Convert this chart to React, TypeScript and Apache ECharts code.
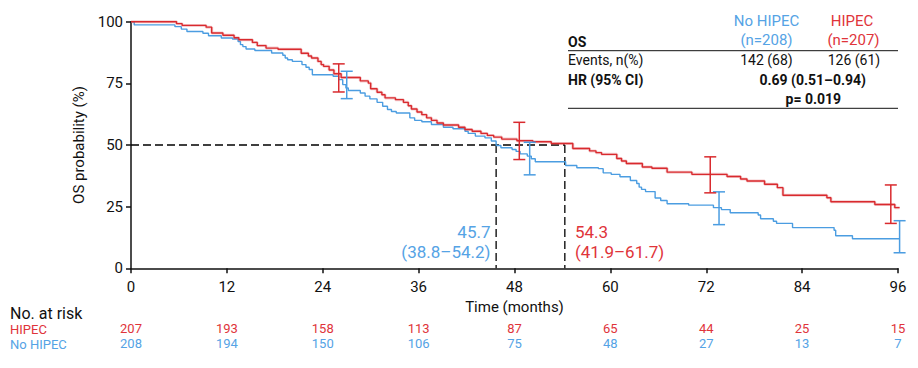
import React, { useEffect, useRef } from "react";
import * as echarts from "echarts";

const FONT = "Roboto, 'Noto Sans', sans-serif";
const RED = "#d92a2e";
const BLUE = "#4b9de1";
const RED_TXT = "#e0343a";
const BLUE_TXT = "#55a3e5";

const xTicks = [0, 12, 24, 36, 48, 60, 72, 84, 96];
const riskHIPEC = [207, 193, 158, 113, 87, 65, 44, 25, 15];
const riskNoHIPEC = [208, 194, 150, 106, 75, 48, 27, 13, 7];

// [time (months), survival % from this time on]
const hipecCurve: [number, number][] = [
  [0, 100], [5.7, 99.2], [6.4, 98.5], [9.4, 97.8], [10.1, 95.4], [11.5, 94.5], [12.9, 93.5],
  [13.5, 92.7], [15.2, 91.6], [15.8, 90.3], [16.9, 89.3], [18.4, 88.8], [21.3, 87.2],
  [22.2, 86.1], [22.6, 85.3], [23.4, 83.9], [23.8, 82.6], [24.1, 81.9], [24.8, 80.4],
  [25.4, 78.9], [26.3, 77.4], [28.7, 76], [29.7, 75.1], [30.0, 72.8], [30.8, 71.4],
  [31.4, 70.4], [31.8, 69.1], [33.1, 68.4], [34.1, 67.3], [34.7, 65.9], [35.1, 64.6],
  [35.8, 63.4], [36.4, 62.3], [37.0, 61], [37.6, 60], [38.3, 58.9], [39.1, 58.1],
  [41.0, 57.2], [41.8, 56.3], [42.7, 55.6], [43.8, 54.7], [44.6, 53.9], [45.4, 53.2],
  [46.4, 52.4], [48.3, 51.7], [50.3, 51.3], [52.6, 50.6], [55.3, 48.6], [57.4, 47.6],
  [58.2, 46.9], [58.9, 46.2], [60.8, 44.5], [61.4, 43.5], [62.0, 42.5], [64.0, 41.1],
  [65.2, 40.6], [67.1, 39], [70.2, 38.1], [74.6, 37.2], [76.3, 36.2], [77.1, 35.4],
  [79.3, 34.1], [80.9, 32.7], [81.6, 29.6], [87.1, 28.6], [87.6, 27], [93.1, 25.9],
  [95.6, 24.6], [96.2, 24.6],
];

const noHipecCurve: [number, number][] = [
  [0, 100], [0.4, 98.7], [5.5, 98], [6.3, 97], [7.0, 96], [9.0, 95.3], [9.7, 94.3],
  [11.3, 93.4], [12.7, 93], [13.4, 92], [13.7, 90.7], [14.0, 89.9], [14.4, 88.9],
  [15.5, 88.3], [17.6, 87.3], [19.0, 86.4], [19.3, 85.3], [19.6, 84.6], [20.2, 83.9],
  [21.4, 82.6], [21.9, 81.5], [22.3, 80.6], [22.7, 78.5], [25.3, 77.9], [26.0, 76.5],
  [26.5, 74.5], [26.9, 73.1], [27.2, 72.1], [28.7, 71.1], [29.3, 69.8], [29.9, 68.7],
  [30.8, 67.3], [31.5, 65.7], [32.1, 64.4], [32.6, 63.6], [33.2, 63], [34.9, 61],
  [35.5, 60], [36.4, 59.4], [37.6, 58.3], [39.1, 57.2], [40.3, 56.6], [41.8, 55.6],
  [42.2, 54.7], [43.1, 53.6], [44.3, 52.9], [45.1, 51.6], [45.7, 49.8], [46.3, 48.9],
  [47.7, 48.2], [48.2, 47.4], [48.7, 46.4], [49.6, 45.5], [50.1, 44.4], [50.6, 43.2],
  [54.4, 41.7], [55.8, 40.8], [58.5, 40.4], [59.1, 38.7], [60.1, 38.1], [61.2, 37.1],
  [62.5, 35.6], [63.3, 34.4], [63.6, 32.9], [63.9, 32], [64.4, 31.1], [65.6, 28.5],
  [66.3, 27.5], [67.1, 26.2], [69.8, 25.6], [72.9, 24.6], [73.9, 23.8], [75.0, 22.5],
  [78.5, 21.6], [78.8, 20.1], [80.4, 19.1], [80.8, 18.2], [82.8, 16.5], [88.0, 15.4],
  [88.2, 13.2], [90.3, 12], [96.2, 12],
];

// [time, lower %, upper %]
const hipecCI: [number, number, number][] = [
  [26.0, 71.5, 82.9], [48.6, 44.1, 59.2], [72.5, 30.6, 45.2], [95.1, 18.2, 33.8],
];
const noHipecCI: [number, number, number][] = [
  [27.0, 68.8, 79.9], [49.9, 37.9, 51.1], [73.6, 17.7, 31.0], [96.2, 6.3, 19.3],
];

const medianHIPEC = 54.3;
const medianNoHIPEC = 45.7;

function errorBarRender(color: string) {
  return (params: any, api: any) => {
    const x = api.value(0);
    const top = api.coord([x, api.value(2)]);
    const bot = api.coord([x, api.value(1)]);
    const w = 6;
    const style = { stroke: color, lineWidth: 1.5 };
    return {
      type: "group",
      children: [
        { type: "line", shape: { x1: top[0], y1: top[1], x2: bot[0], y2: bot[1] }, style },
        { type: "line", shape: { x1: top[0] - w, y1: top[1], x2: top[0] + w, y2: top[1] }, style },
        { type: "line", shape: { x1: bot[0] - w, y1: bot[1], x2: bot[0] + w, y2: bot[1] }, style },
      ],
    };
  };
}

function riskAxis(values: number[], color: string, offset: number) {
  return {
    type: "value",
    gridIndex: 0,
    position: "bottom",
    offset,
    min: 0,
    max: 96,
    interval: 12,
    axisLine: { show: false },
    axisTick: { show: false },
    splitLine: { show: false },
    axisLabel: {
      margin: 0,
      fontFamily: FONT,
      fontSize: 13,
      color,
      formatter: (v: number) => String(values[xTicks.indexOf(v)] ?? ""),
    },
  };
}

export default function App() {
  const ref = useRef<HTMLDivElement>(null);

  useEffect(() => {
    if (!ref.current) return;
    const chart = echarts.init(ref.current, undefined, { renderer: "svg" });
    const txt = (x: number, y: number, text: string, opts: any = {}) => ({
      type: "text",
      style: {
        x,
        y,
        text,
        fontFamily: FONT,
        fontSize: 14,
        fill: "#111",
        textAlign: "left",
        textVerticalAlign: "middle",
        ...opts,
      },
    });

    const dashed = { color: "#000", width: 1.3, type: [8, 4] as any };

    chart.setOption({
      animation: false,
      grid: { left: 131, right: 20, top: 21.7, bottom: 99.7, containLabel: false },
      xAxis: [
        {
          type: "value",
          min: 0,
          max: 96,
          interval: 12,
          name: "Time (months)",
          nameLocation: "middle",
          nameGap: 30,
          nameTextStyle: { fontFamily: FONT, fontSize: 15, color: "#111" },
          axisLine: { show: true, lineStyle: { color: "#111", width: 1.5 } },
          axisTick: { show: true, length: 5, lineStyle: { color: "#111", width: 1.5 } },
          splitLine: { show: false },
          axisLabel: { margin: 11, fontFamily: FONT, fontSize: 15, color: "#111" },
        },
        riskAxis(riskHIPEC, RED_TXT, 54),
        riskAxis(riskNoHIPEC, BLUE_TXT, 69),
      ],
      yAxis: {
        type: "value",
        min: 0,
        max: 100,
        interval: 25,
        name: "OS probability (%)",
        nameLocation: "middle",
        nameGap: 45,
        nameTextStyle: { fontFamily: FONT, fontSize: 15, color: "#111" },
        axisLine: { show: true, lineStyle: { color: "#111", width: 1.5 } },
        axisTick: { show: true, length: 5, lineStyle: { color: "#111", width: 1.5 } },
        splitLine: { show: false },
        axisLabel: { margin: 8, fontFamily: FONT, fontSize: 15, color: "#111" },
      },
      series: [
        {
          type: "line",
          data: [[0, 50], [medianHIPEC, 50]],
          symbol: "none",
          lineStyle: dashed,
          z: 1,
        },
        {
          type: "line",
          data: [[medianNoHIPEC, 50], [medianNoHIPEC, 0]],
          symbol: "none",
          lineStyle: dashed,
          z: 1,
        },
        {
          type: "line",
          data: [[medianHIPEC, 50], [medianHIPEC, 0]],
          symbol: "none",
          lineStyle: dashed,
          z: 1,
        },
        {
          type: "line",
          data: noHipecCurve,
          step: "end",
          symbol: "none",
          clip: false,
          lineStyle: { color: BLUE, width: 1.4 },
          z: 2,
        },
        {
          type: "line",
          data: hipecCurve,
          step: "end",
          symbol: "none",
          clip: false,
          lineStyle: { color: "rgba(220,90,95,0.3)", width: 3 },
          z: 3,
        },
        {
          type: "line",
          data: hipecCurve,
          step: "end",
          symbol: "none",
          clip: false,
          lineStyle: { color: RED, width: 1.4 },
          z: 4,
        },
        {
          type: "custom",
          data: noHipecCI,
          clip: false,
          renderItem: errorBarRender(BLUE),
          z: 5,
        },
        {
          type: "custom",
          data: hipecCI,
          clip: false,
          renderItem: errorBarRender(RED),
          z: 6,
        },
      ],
      graphic: [
        // summary table
        txt(766.5, 21, "No HIPEC", { fill: BLUE_TXT, textAlign: "center", fontSize: 15 }),
        txt(766.5, 39.5, "(n=208)", { fill: BLUE_TXT, textAlign: "center", fontSize: 15 }),
        txt(852, 21, "HIPEC", { fill: RED_TXT, textAlign: "center", fontSize: 15 }),
        txt(853.5, 39.5, "(n=207)", { fill: RED_TXT, textAlign: "center", fontSize: 15 }),
        txt(568, 41.5, "OS", { fontWeight: "bold" }),
        { type: "line", shape: { x1: 568, y1: 50.7, x2: 898, y2: 50.7 }, style: { stroke: "#111", lineWidth: 1 } },
        txt(568, 60, "Events, n(%)"),
        txt(766.5, 60, "142 (68)", { textAlign: "center" }),
        txt(854, 60, "126 (61)", { textAlign: "center" }),
        txt(568, 80, "HR (95% CI)", { fontWeight: "bold" }),
        txt(812.7, 80, "0.69 (0.51–0.94)", { textAlign: "center", fontWeight: "bold" }),
        txt(813.3, 99.3, "p= 0.019", { textAlign: "center", fontWeight: "bold" }),
        { type: "line", shape: { x1: 568, y1: 108.3, x2: 898, y2: 108.3 }, style: { stroke: "#111", lineWidth: 1 } },
        // medians
        txt(490.5, 231.7, "45.7", { fill: BLUE_TXT, textAlign: "right", fontSize: 17 }),
        txt(490.5, 251.7, "(38.8–54.2)", { fill: BLUE_TXT, textAlign: "right", fontSize: 17 }),
        txt(575, 231.7, "54.3", { fill: RED_TXT, fontSize: 17 }),
        txt(575, 251.7, "(41.9–61.7)", { fill: RED_TXT, fontSize: 17 }),
        // risk table labels
        txt(10, 313.5, "No. at risk", { fontSize: 16 }),
        txt(10, 329.3, "HIPEC", { fill: RED_TXT, fontSize: 13 }),
        txt(10, 344, "No HIPEC", { fill: BLUE_TXT, fontSize: 13 }),
      ],
    });
    return () => chart.dispose();
  }, []);

  return <div ref={ref} style={{ width: 918, height: 368, margin: -8 }} />;
}
